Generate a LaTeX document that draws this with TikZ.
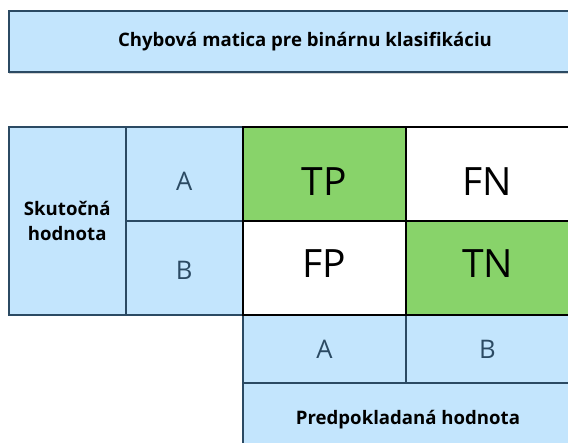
\documentclass[tikz,border=0pt]{standalone}
\usepackage{fontspec}
\setmainfont{Open Sans}
\usetikzlibrary{shadows}
\definecolor{svetlomodra}{HTML}{C3E5FD}
\definecolor{ramik}{HTML}{2B4A63}
\definecolor{zelena}{HTML}{88D36A}

\begin{document}
\begin{tikzpicture}[x=0.5pt,y=-0.5pt,
		hlavicka/.style={draw=ramik,fill=svetlomodra,line width=1pt,inner sep=0pt,outer sep=0pt,align=center,font=\bfseries\fontsize{9.3}{12.5}\selectfont},
		trieda/.style={hlavicka,minimum width=81.5pt,font=\fontsize{12.8}{14}\selectfont,text=ramik},
		bunka/.style={draw=black,line width=1pt,inner sep=0pt,outer sep=0pt,minimum width=81.5pt,minimum height=46.75pt,font=\fontsize{19.5}{22}\selectfont}]
		  \useasboundingbox (0,0) rectangle (568,443);
		  \clip (0,0) rectangle (568,443);
		  % nadpis
		  \node[hlavicka,minimum width=296pt,minimum height=30.5pt,drop shadow={shadow xshift=0pt,shadow yshift=-1pt,opacity=0.35}] (nadpis) at (305,41.5) {Chybová matica pre binárnu klasifikáciu};
		  % skutocna hodnota
		  \node[hlavicka,minimum width=58.25pt,minimum height=93.75pt] (skut) at (67.25,221.25) {Skutočná\\hodnota};
		  \node[trieda,minimum width=58.75pt,minimum height=46.75pt,text height=16pt,text depth=0pt] (skutA) at (184.25,174.25) {A};
		  \node[trieda,minimum width=58.75pt,minimum height=46.75pt,text height=12pt,text depth=0pt] (skutB) at (184.25,268) {B};
		  % predpokladana hodnota
		  \node[trieda,minimum height=34pt,text height=10pt,text depth=0pt] (predA) at (324.5,349) {A};
		  \node[trieda,minimum height=34pt,text height=10pt,text depth=0pt] (predB) at (487.5,349) {B};
		  \node[hlavicka,minimum width=165pt,minimum height=37pt] (pred) at (408,420) {Predpokladaná hodnota};
		  % matica
		  \node[bunka,fill=zelena,text height=21pt,text depth=0pt] (TP) at (324.5,174.25) {TP};
		  \node[bunka,fill=white,text height=21pt,text depth=0pt]  (FN) at (487.5,174.25) {FN};
		  \node[bunka,fill=white,text height=9.5pt,text depth=0pt]  (FP) at (324.5,268) {FP};
		  \node[bunka,fill=zelena,text height=9.5pt,text depth=0pt] (TN) at (487.5,268) {TN};
		\end{tikzpicture}
\end{document}
